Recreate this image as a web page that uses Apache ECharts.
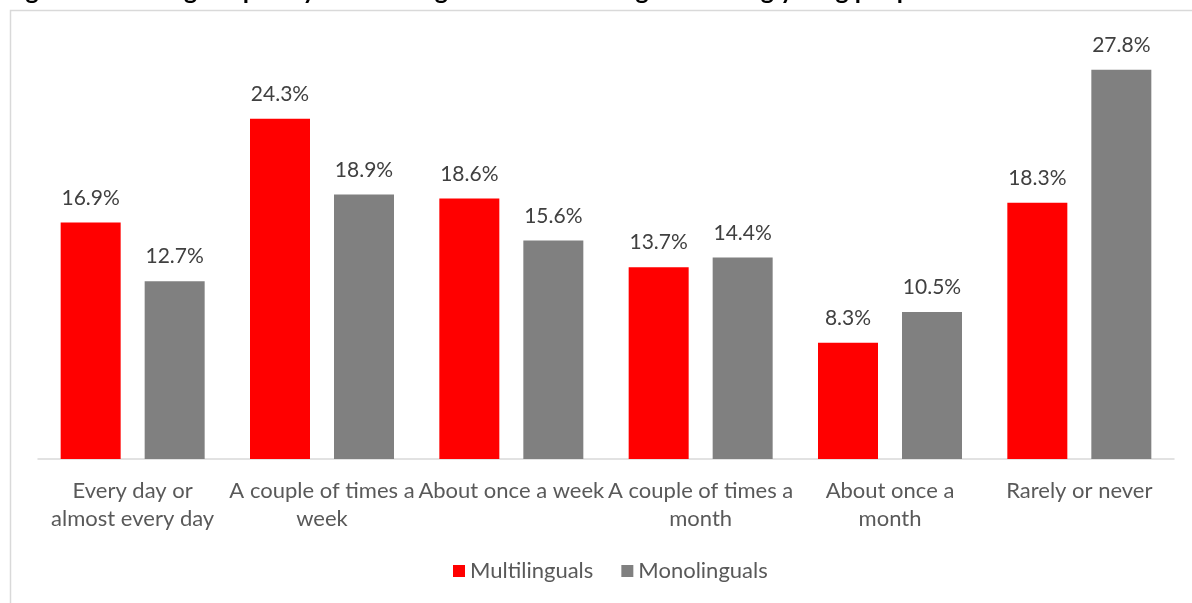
<!DOCTYPE html>
<html>
<head>
<meta charset="utf-8">
<script src="https://cdn.jsdelivr.net/npm/echarts@6/dist/echarts.min.js"></script>
<style>
  html, body { margin: 0; padding: 0; background: #fff; }
  #chart { width: 1192px; height: 603px; }
</style>
</head>
<body>
<div id="chart"></div>
<script>
// Reading frequency by group, shares in percent
const categories = [
  'Every day or\nalmost every day',
  'A couple of times a\nweek',
  'About once a week',
  'A couple of times a\nmonth',
  'About once a\nmonth',
  'Rarely or never'
];
const multilinguals = [16.9, 24.3, 18.6, 13.7, 8.3, 18.3];
const monolinguals = [12.7, 18.9, 15.6, 14.4, 10.5, 27.8];
const seriesNames = ['Multilinguals', 'Monolinguals'];

const FONT = 'Lato';
const chart = echarts.init(document.getElementById('chart'));

const labelStyle = {
  show: true,
  position: 'top',
  distance: 14,
  color: '#404040',
  fontFamily: FONT,
  fontSize: 21,
  formatter: p => p.value.toFixed(1) + '%'
};

chart.setOption({
  animation: false,
  textStyle: { fontFamily: FONT },
  title: {
    text: 'Figure 6: Reading frequency of multilinguals and monolinguals among young people',
    left: 0,
    top: -27,
    textStyle: { fontFamily: FONT, fontSize: 25, fontWeight: 'bold', color: '#000' }
  },
  graphic: [{
    type: 'rect',
    shape: { x: 10.5, y: 10.5, width: 1200, height: 620 },
    style: { fill: '#fff', stroke: '#d9d9d9', lineWidth: 1.5 },
    silent: true,
    z: -10
  }],
  grid: { left: 38, right: 18, top: 39, bottom: 144 },
  legend: {
    bottom: 16,
    left: 448,
    itemWidth: 12,
    itemHeight: 12,
    itemGap: 28,
    icon: 'rect',
    textStyle: { color: '#595959', fontSize: 22, fontFamily: FONT },
    data: seriesNames
  },
  xAxis: {
    type: 'category',
    data: categories,
    axisLine: { lineStyle: { color: '#d9d9d9', width: 1.5 } },
    axisTick: { show: false },
    axisLabel: {
      color: '#595959',
      fontSize: 22,
      fontFamily: FONT,
      lineHeight: 28,
      margin: 18,
      interval: 0
    }
  },
  yAxis: {
    type: 'value',
    min: 0,
    max: 30,
    show: false,
    splitLine: { show: false }
  },
  series: [
    {
      name: seriesNames[0],
      type: 'bar',
      data: multilinguals,
      barWidth: 60,
      barGap: '40%',
      itemStyle: { color: '#ff0000' },
      label: labelStyle
    },
    {
      name: seriesNames[1],
      type: 'bar',
      data: monolinguals,
      barWidth: 60,
      itemStyle: { color: '#808080' },
      label: labelStyle
    }
  ]
});
</script>
</body>
</html>
